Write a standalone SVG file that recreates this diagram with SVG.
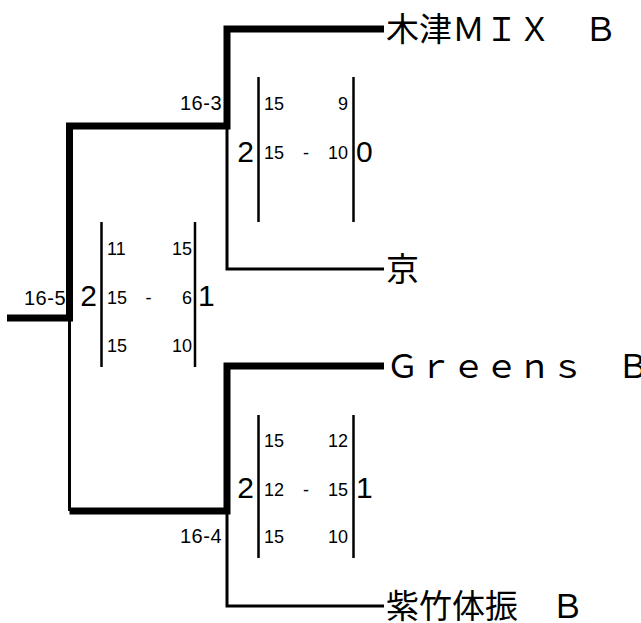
<svg xmlns="http://www.w3.org/2000/svg" width="641" height="623" viewBox="0 0 641 623">
<style>
.thick{fill:none;stroke:#000;stroke-width:7;stroke-linejoin:miter;stroke-linecap:butt}
.thin{fill:none;stroke:#000;stroke-width:3;stroke-linecap:butt}
.box{stroke:#000;stroke-width:2.5}
.name{font-family:"Noto Sans CJK JP","Noto Sans CJK SC",sans-serif;font-size:33px;fill:#000}
.sc{font-family:"Liberation Sans",Arial,sans-serif;font-size:18px;fill:#000}
.big{font-family:"Liberation Sans",Arial,sans-serif;font-size:30px;fill:#000}
.rd{font-family:"Liberation Sans",Arial,sans-serif;font-size:20px;fill:#000;letter-spacing:0.5px}
.e{text-anchor:end}
.m{text-anchor:middle}
</style>
<rect width="641" height="623" fill="#fff"/>
<g id="connectors">
<path class="thick" d="M384 29H227V126H69.5V318H7"/>
<path class="thin" d="M227 126V269H384"/>
<path class="thin" d="M69.5 318V511"/>
<path class="thick" d="M384 366H227V511H69.5"/>
<path class="thin" d="M227 511V606H384"/>
</g>
<g id="team-kizu"><text class="name" x="386" y="41">木津ＭＩＸ　Ｂ</text></g>
<g id="team-kyo"><text class="name" x="386" y="281">京</text></g>
<g id="team-greens"><text class="name" x="386" y="378">Ｇｒｅｅｎｓ　Ｂ</text></g>
<g id="team-shichiku"><text class="name" x="386" y="618">紫竹体振　Ｂ</text></g>
<g id="match-16-3">
<text class="rd e" x="222" y="110">16-3</text>
<line class="box" x1="258.5" y1="77" x2="258.5" y2="222"/>
<line class="box" x1="353.5" y1="77" x2="353.5" y2="222"/>
<text class="sc" x="264" y="110">15</text><text class="sc e" x="348" y="110">9</text>
<text class="sc" x="264" y="159">15</text><text class="sc m" x="306" y="159">-</text><text class="sc e" x="348" y="159">10</text>
<text class="big e" x="254" y="162">2</text><text class="big" x="356" y="162">0</text>
</g>
<g id="match-16-5">
<text class="rd e" x="66" y="305">16-5</text>
<line class="box" x1="101.5" y1="222" x2="101.5" y2="367"/>
<line class="box" x1="195" y1="222" x2="195" y2="367"/>
<text class="sc" x="107" y="255">11</text><text class="sc e" x="192" y="255">15</text>
<text class="sc" x="107" y="304">15</text><text class="sc m" x="148.5" y="304">-</text><text class="sc e" x="192" y="304">6</text>
<text class="sc" x="107" y="352">15</text><text class="sc e" x="192" y="352">10</text>
<text class="big e" x="97" y="306">2</text><text class="big" x="198" y="306">1</text>
</g>
<g id="match-16-4">
<text class="rd e" x="222" y="543">16-4</text>
<line class="box" x1="258.5" y1="415" x2="258.5" y2="558"/>
<line class="box" x1="353.5" y1="415" x2="353.5" y2="558"/>
<text class="sc" x="264" y="447">15</text><text class="sc e" x="348" y="447">12</text>
<text class="sc" x="264" y="496">12</text><text class="sc m" x="306" y="496">-</text><text class="sc e" x="348" y="496">15</text>
<text class="sc" x="264" y="543">15</text><text class="sc e" x="348" y="543">10</text>
<text class="big e" x="254" y="498">2</text><text class="big" x="356" y="498">1</text>
</g>
</svg>
